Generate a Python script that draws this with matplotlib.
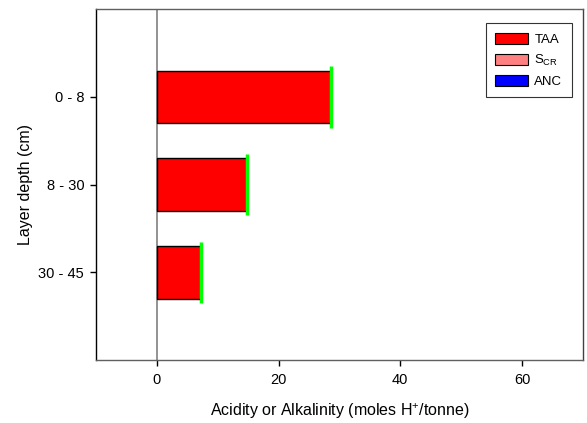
import matplotlib.pyplot as plt
from matplotlib.patches import Patch

plt.rcParams['font.family'] = ['Liberation Sans', 'DejaVu Sans']

depths = ['0 - 8', '8 - 30', '30 - 45']
taa = [28.6, 14.8, 7.3]
scr = [0.0, 0.0, 0.0]
anc = [0.0, 0.0, 0.0]

fig = plt.figure(figsize=(5.87, 4.23), dpi=100)
ax = fig.add_axes([0.1635, 0.149, 0.8295, 0.829])

ypos = [1, 2, 3]
ax.barh(ypos, taa, height=0.6, color='#ff0000', edgecolor='black', linewidth=1.0, zorder=2)
ax.barh(ypos, scr, left=taa, height=0.6, color='#ff8080', edgecolor='none', zorder=2)
# end markers on each bar
for y, v in zip(ypos, taa):
    ax.vlines(v, y - 0.35, y + 0.35, color='#00ff00', linewidth=2.5, zorder=3)

ax.axvline(0, color='#808080', linewidth=1.2, zorder=1)

ax.set_xlim(-10, 70)
ax.set_ylim(4, 0)
ax.set_xticks([0, 20, 40, 60])
ax.set_yticks(ypos)
ax.set_yticklabels(depths)
ax.tick_params(labelsize=10.5, length=4.5, width=1, direction='out')
ax.tick_params(axis='x', pad=5)
ax.tick_params(axis='y', pad=4)

ax.spines['left'].set_color('black')
ax.spines['top'].set_color('#606060')
ax.spines['bottom'].set_color('#606060')
ax.spines['right'].set_color('#404040')
for s in ax.spines.values():
    s.set_linewidth(1.0)

ax.set_xlabel('Acidity or Alkalinity (moles H$^{\\mathregular{+}}$/tonne)', fontsize=11.5, labelpad=10)
ax.set_ylabel('Layer depth (cm)', fontsize=11.5, labelpad=4)

handles = [Patch(facecolor='#ff0000', edgecolor='black', linewidth=0.8),
           Patch(facecolor='#ff8080', edgecolor='black', linewidth=0.8),
           Patch(facecolor='#0000ff', edgecolor='black', linewidth=0.8)]
leg = ax.legend(handles, ['TAA', 'S$_{\\mathregular{CR}}$', 'ANC'],
                loc='upper right', bbox_to_anchor=(0.977, 0.96), borderaxespad=0,
                fontsize=9.5, frameon=True, fancybox=False, edgecolor='black',
                handlelength=2.5, handleheight=0.9, handletextpad=0.5,
                labelspacing=0.55, borderpad=0.7)
leg.get_frame().set_linewidth(0.8)

fig.savefig('out.png', dpi=100)
